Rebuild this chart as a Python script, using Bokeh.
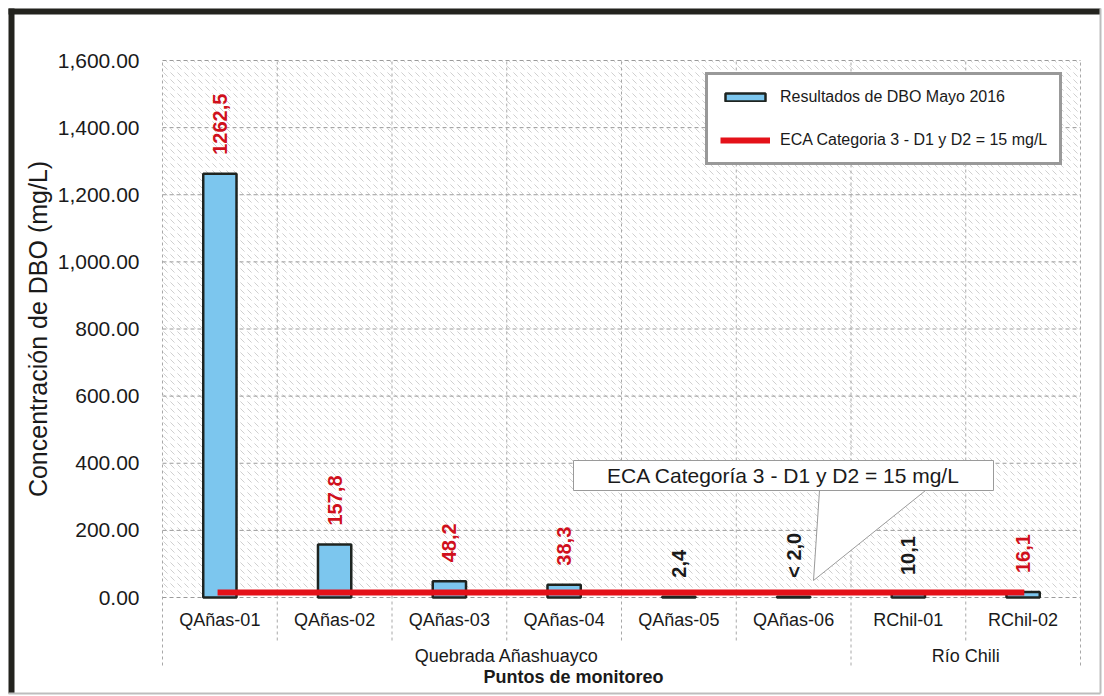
import numpy as np
from bokeh.plotting import figure
from bokeh.models import (Range1d, LinearAxis, FixedTicker, Legend, LegendItem,
                          ColumnDataSource)
from bokeh.core.properties import value
from bokeh.embed import file_html
from bokeh.resources import INLINE

# ---------------- data ----------------
stations = ["QAñas-01", "QAñas-02", "QAñas-03", "QAñas-04", "QAñas-05", "QAñas-06",
            "RChil-01", "RChil-02"]
dbo = [1262.5, 157.8, 48.2, 38.3, 2.4, 2.0, 10.1, 16.1]
dbo_labels = ["1262,5", "157,8", "48,2", "38,3", "2,4", "< 2,0", "10,1", "16,1"]
eca_value = 15
groups = ["Quebrada Añashuayco", "Río Chili"]
group_sizes = [6, 2]
y_ticks = [0, 200, 400, 600, 800, 1000, 1200, 1400, 1600]
bar_legend = "Resultados de DBO Mayo 2016"
eca_legend = "ECA Categoria 3 - D1 y D2 = 15 mg/L"
callout_text = "ECA Categoría 3 - D1 y D2 = 15 mg/L"

# ---------------- geometry (pixel layout) ----------------
W, H = 1104, 696
FL, FR, FT, FB = 162, 1080, 60, 597
n = len(stations)
ymax = y_ticks[-1]
xs = n / (FR - FL)
ys = ymax / (FB - FT)
X = lambda px: (px - FL) * xs
Y = lambda py: (FB - py) * ys

FONT = "Liberation Sans"

p = figure(width=W, height=H, output_backend="svg", toolbar_location=None,
           x_range=Range1d(X(0), X(W)), y_range=Range1d(Y(H), Y(0)),
           x_axis_location=None, y_axis_location=None, min_border=0,
           outline_line_color=None, background_fill_color="white",
           border_fill_color="white")
p.xgrid.visible = False
p.ygrid.visible = False

# hatched plot background
p.quad(left=0, right=n, bottom=0, top=ymax, fill_color="white", line_color=None,
       hatch_pattern="`", hatch_color="#c4c4c4", hatch_scale=7, hatch_weight=0.8,
       level="image")

# horizontal grid lines
p.segment(x0=[0] * len(y_ticks), x1=[n] * len(y_ticks), y0=y_ticks, y1=y_ticks,
          line_color="#9a9a9a", line_dash="4 3", line_width=1)

# vertical separators (inside plot and through label area)
bounds_x = list(range(n + 1))
group_edges = [0] + list(np.cumsum(group_sizes))
bot = [Y(665) if b in group_edges else Y(640) for b in bounds_x]
p.segment(x0=bounds_x, x1=bounds_x, y0=bot, y1=[ymax] * len(bounds_x),
          line_color="#a8a8a8", line_dash="3 3", line_width=1)

centers = np.arange(n) + 0.5
src = ColumnDataSource(dict(x=centers, top=dbo, lab=dbo_labels,
                            col=["#d0101c" if v > eca_value else "#1a1a1a" for v in dbo]))

bars = p.vbar(x="x", top="top", width=0.29, source=src, fill_color="#7cc6ee",
              line_color="#1e2420", line_width=2.5)

eca = p.line(x=[centers[0] - 0.02, centers[-1] + 0.01], y=[eca_value, eca_value],
             line_color="#e41119", line_width=6)

p.text(x="x", y="top", text="lab", source=src, angle=np.pi / 2, text_align="left",
       text_baseline="middle", y_offset=-19, text_color="col",
       text_font=value(FONT), text_font_size="20px", text_font_style="bold")

# callout
bx0, bx1, by0, by1 = X(573), X(993), Y(490), Y(460)
p.patch(x=[X(819), X(813), X(925)], y=[by0, Y(580), by0], fill_color="white",
        line_color=None)
p.line(x=[X(819), X(813), X(925)], y=[by0, Y(580), by0], line_color="#9a9a9a",
       line_width=1)
p.quad(left=bx0, right=bx1, bottom=by0, top=by1, fill_color="white",
       line_color="#9a9a9a", line_width=1)
p.text(x=[(bx0 + bx1) / 2], y=[(by0 + by1) / 2], text=[callout_text],
       text_align="center", text_baseline="middle", text_color="#1a1a1a",
       text_font=value(FONT), text_font_size="21px")

# axes
yax = LinearAxis(fixed_location=0, bounds=(0, ymax),
                 ticker=FixedTicker(ticks=y_ticks, minor_ticks=[]),
                 axis_label="Concentración de DBO (mg/L)")
yax.major_label_overrides = {t: f"{t:,.2f}" for t in y_ticks}
yax.axis_line_color = None
yax.major_tick_line_color = None
yax.minor_tick_line_color = None
yax.major_label_standoff = 17
yax.major_label_text_font = FONT
yax.major_label_text_font_size = "21px"
yax.major_label_text_color = "#1a1a1a"
yax.axis_label_text_font = FONT
yax.axis_label_text_font_size = "25px"
yax.axis_label_text_font_style = "normal"
yax.axis_label_text_color = "#1a1a1a"
yax.axis_label_standoff = 3
p.add_layout(yax, "left")

xax = LinearAxis(fixed_location=0, bounds=(0, n),
                 ticker=FixedTicker(ticks=list(centers), minor_ticks=[]))
xax.major_label_overrides = {float(c): s for c, s in zip(centers, stations)}
xax.axis_line_color = None
xax.major_tick_line_color = None
xax.minor_tick_line_color = None
xax.major_label_standoff = 6
xax.major_label_text_font = FONT
xax.major_label_text_font_size = "18px"
xax.major_label_text_color = "#1a1a1a"
p.add_layout(xax, "below")

gcent = [(group_edges[i] + group_edges[i + 1]) / 2 for i in range(len(groups))]
gax = LinearAxis(fixed_location=Y(629), bounds=(0, n),
                 ticker=FixedTicker(ticks=gcent, minor_ticks=[]))
gax.major_label_overrides = {float(c): s for c, s in zip(gcent, groups)}
gax.axis_line_color = None
gax.major_tick_line_color = None
gax.minor_tick_line_color = None
gax.major_label_standoff = 10
gax.major_label_text_font = FONT
gax.major_label_text_font_size = "18px"
gax.major_label_text_color = "#1a1a1a"
p.add_layout(gax, "below")

p.text(x=[X(573)], y=[Y(676)], text=["Puntos de monitoreo"], text_align="center",
       text_baseline="middle", text_color="#1a1a1a", text_font=value(FONT),
       text_font_size="18px", text_font_style="bold")

# outer picture frame
p.quad(left=[X(8), X(8)], right=[X(14), X(1100)], bottom=[Y(693), Y(14)],
       top=[Y(8), Y(8)], fill_color="#23231e", line_color=None)
p.segment(x0=[X(8), X(1100)], x1=[X(1100), X(1100)], y0=[Y(693), Y(8)],
          y1=[Y(693), Y(693)], line_color="#bdbdbd", line_width=2)

# legend
legend = Legend(items=[LegendItem(label=bar_legend, renderers=[bars]),
                       LegendItem(label=eca_legend, renderers=[eca])],
                location=(705, H - 165), orientation="vertical",
                glyph_width=50, glyph_height=10, label_height=20, spacing=23,
                padding=12, margin=0, label_standoff=10,
                label_text_font=FONT, label_text_font_size="16px",
                label_text_color="#1a1a1a",
                border_line_color="#333333", border_line_width=3,
                background_fill_color="white", background_fill_alpha=1)
p.add_layout(legend)

open("out.html", "w").write(file_html(p, INLINE))
